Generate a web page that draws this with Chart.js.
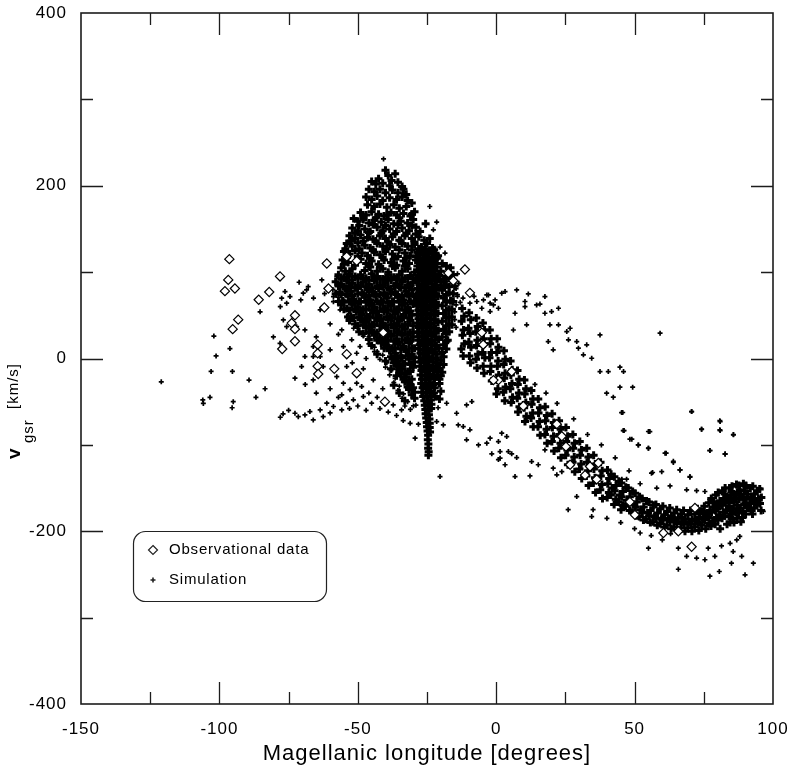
<!DOCTYPE html>
<html>
<head>
<meta charset="utf-8">
<title>Magellanic Stream velocities</title>
<script src="https://cdn.jsdelivr.net/npm/chart.js@4.4.1/dist/chart.umd.min.js"></script>
<style>
  body { margin: 0; background: #fff; }
  canvas { display: block; }
</style>
</head>
<body>
<canvas id="lonVel" width="789" height="770"></canvas>
<script>
// observed clouds (open diamonds)
const obsLon = [-96.4,-96.8,-98,-94.4,-85.8,-82,-78.1,-93.2,-95.2,-61.2,-60.6,-62.1,-72.7,-73.9,-72.7,-77.3,-72.7,-64.5,-64.5,
  -64.5,-64.3,-58.5,-50.4,-54,-50.4,-54,-11.3,-17.3,-15.5,-9.5,-5.2,-40.8,-4.7,-40.2,5.6,0.8,9.8,-1,21.9,
  23.7,25.2,26.7,33.9,36.9,32.1,36.3,48.3,50.1,60.4,65.8,70.6,71.8];
const obsVel = [115,91,78,81,68,77,95,45,34,110,81,59,50,41,34,11,20,16,6,
  -9,-18,-12,-17,5,113,118,103,99,90,76,30,30,16,-50,-15,-25,-55,-25,-76,
  -90,-102,-123,-125,-121,-135,-140,-166,-181,-202,-200,-218,-173];

// simulation particles, lon,vel pairs, grouped by part of the stream
const simWest = [
  -121,-27, -106,-48, -105.8,-52, -103.4,-45, -102,26, -101.2,3, -96.2,11.5, -103,-15, -95.3,-15, -95,-50, -95.4,-57,
  -89.3,-25, -86.8,-45, -83.5,-35, -85.3,54, -80.5,25, -78.1,17.6, -76.3,77.5, -74.5,71.7, -77.5,69.8, -75.7,64,
  -71.2,88.3, -70.6,67.8, -68.5,79.4, -69.7,75.6, -67.9,83.2, -63,91, -57.6,94.8, -58.8,71.7, -63.6,56.3, -56.4,56.3,
  -58.8,65.8, -54,48.5, -73.3,48.5, -76.9,44.7, -75.7,36.9, -72.1,36.9, -69.1,33.1, -66.1,13.8, -66.1,2.2, -63.6,2.2,
  -69.1,2.2, -70.3,-9.4, -62.5,-9.4, -55.8,33.1, -55.2,13.8, -52.2,21.6, -50.4,6.1, -49.2,13.8, -54,-9.4, -57.6,-21,
  -55.2,-28.6, -72.7,-22.8, -66.1,-24.8, -55.8,-42.1, -54,-51.7, -51.6,-47.9, -48.6,-32.5, -44.4,-24.8, -48,-44.1, -45,-51.7,
  -61.2,-51.7, -58.8,-55.6, -63.6,-59.5, -67.3,-61.5, -72.7,-63.4, -71.5,-67.3, -69.1,-65.3, -66.1,-71.1, -62.5,-67.3, -55.8,-59.5,
  -52.8,-36.1, -50.4,-28.6, -78,60, -66,70, -62,75, -60,40, -57,28, -65,25, -60,10, -52,-5,
  -48,-12, -46,-40, -43,-45, -41,-35, -47,0, -44,8, -46,25, -50,35, -52,62, -75,-60,
  -78,-68, -77,-64, -60,-63, -57,-45, -53,-58, -50,-55, -69,-30, -65,-40, -60,-35, -42,-58,
  -39,-62, -36,-66, -47,-60
];

const simPeak = [
  -40,218, -36.5,214, -39,212, -42.5,208, -37.8,206,
  -45,205, -43.5,202, -41,203, -38.5,200, -35.5,204, -34,199,
  -46,196, -44,193, -42,196, -40,192, -37.5,195, -35.5,192, -33.5,196, -32.5,190,
  -47,187, -45,184, -43,188, -41,183, -38.5,186, -36,184, -34,187, -32,183,
  -46.5,178, -44,176, -42,179, -39.5,175, -37,178, -35,174, -32.5,176, -30.5,180,
  -49,169, -47,166, -45,170, -42.5,167, -40.5,165, -38,169, -36,166, -33.5,168, -31,165, -29.5,170,
  -48,164, -43.5,163, -39.5,166, -35,163, -30.5,167,
  -51.5,162, -50,159, -48,161, -46,157, -44,160, -41.5,158, -39,161, -37,156, -34.5,159, -32,157, -30,161,
  -49.5,154, -44.5,155, -40,154, -35.5,155, -30.5,154, -25.5,156,
  -52,151, -50,148, -47.5,150, -45.5,147, -43,152, -41,148, -38.5,150, -36,147, -34,151, -31.5,148, -29,152, -27.5,147,
  -51,145, -46,146, -41.5,145, -37,144, -32.5,145, -29,144,
  -53,142, -51,139, -49,143, -46.5,140, -44.5,138, -42,142, -40,139, -37.5,141, -35,137, -33,142, -30.5,139, -28,141, -26,137,
  -52.5,136, -48,136, -43.5,136, -39,135, -34.5,136, -29.5,135, -24,139,
  -54,133, -52,130, -50,134, -47.5,131, -45.5,128, -43,133, -41,130, -38.5,132, -36.5,129, -34,133, -32,130, -29.5,132, -27,129, -25,133,
  -54.5,127, -49.5,127, -44.5,126, -39.5,127, -35,126, -30.5,126, -28,127, -23,128,
  -55,124, -53,121, -51,125, -48.5,122, -46.5,119, -44,123, -42,120, -40,124, -37.5,121, -35.5,118, -33,122, -31,119, -28.5,123, -26.5,120, -24,124,
  -54,117, -50,118, -45.5,116, -41,117, -37,115, -32.5,116, -29,118, -25.5,117, -21,119,
  -55.5,114, -53.5,111, -49,115, -47,110, -45,113, -42.5,109, -40.5,114, -38,111, -36,108, -33.5,113, -31.5,110, -29,114, -27,109, -24.5,112, -22,115, -19.5,110,
  -55,109, -51,108, -46,107, -42,106, -37.5,107, -33,107, -28.5,107, -23.5,108, -18,107,
  -56,105, -54.5,101, -52,104, -47.5,102, -45.5,106, -43,101, -41,104, -39,100, -36.5,105, -34,101, -32,104, -29.5,100, -27.5,105, -25,101, -22.5,104, -20,101, -16.5,105
];

const simCloud = [
  -57,97, -55,94, -53,98, -51,95, -49,97, -47,93, -45,98, -43,95, -41,92, -39,97, -37,94, -35,97, -33,93, -31,96, -29,93, -20.5,96, -18,93, -15.5,97,
  -56,92, -54,93, -52,91, -50,93, -48,92, -46,91, -44,93, -42,92, -40,91, -38,93, -36,92, -34,91, -32,93, -30,92, -19,92, -17,94,
  -58,89, -56,86, -54,90, -52,87, -50,84, -48,89, -46,86, -44,90, -42,85, -40,88, -38,91, -36,86, -34,89, -32,85, -30,88, -20,89, -18,85, -16,90,
  -57,84, -55,83, -53,84, -51,82, -49,84, -47,83, -45,82, -43,84, -41,83, -39,82, -37,84, -35,83, -33,82, -31,84, -19,84, -17,83, -15,84,
  -56.5,77, -54.5,81, -52.5,78, -50.5,82, -48.5,76, -46.5,80, -44.5,77, -42.5,81, -40.5,76, -38.5,80, -36.5,77, -34.5,82, -32.5,78, -30.5,80, -19.5,79, -17,76,
  -58,75, -56,74, -54,75, -52,73, -50,75, -48,74, -46,73, -44,75, -42,74, -40,73, -38,75, -36,74, -34,73, -32,75, -30,74, -18,74, -15.5,75,
  -55.5,67, -53.5,72, -51.5,69, -49.5,66, -47.5,71, -45.5,68, -43.5,72, -41.5,67, -39.5,70, -37.5,66, -35.5,71, -33.5,68, -31.5,72, -29.5,67, -19,70, -16.5,67,
  -57,66, -55,65, -53,66, -51,64, -49,66, -47,65, -45,64, -43,66, -41,65, -39,64, -37,66, -35,65, -33,64, -31,66, -18,65, -15.5,66,
  -56,62, -54,58, -52,63, -50,60, -48,57, -46,62, -44,59, -42,63, -40,58, -38,61, -36,57, -34,62, -32,59, -30,63, -19.5,61, -17,57,
  -55,57, -53,56, -51,57, -49,55, -47,57, -45,56, -43,55, -41,57, -39,56, -37,55, -35,57, -33,56, -31,55, -18,56, -16,57,
  -52.5,49, -50.5,54, -48.5,51, -46.5,48, -44.5,53, -42.5,50, -40.5,54, -38.5,49, -36.5,52, -34.5,48, -32.5,53, -30.5,50, -19,52, -17,48,
  -53.5,48, -51.5,47, -49.5,48, -47.5,46, -45.5,48, -43.5,47, -41.5,46, -39.5,48, -37.5,47, -35.5,46, -33.5,48, -31.5,47, -18,47, -16,48,
  -53,44, -51,40, -49,45, -47,42, -45,39, -43,44, -41,41, -39,45, -37,40, -35,43, -33,39, -31,44, -19.5,43, -17,40,
  -50,38, -48,39, -46,37, -44,39, -42,38, -40,37, -38,39, -36,38, -34,37, -32,39, -30,38, -18,38, -16,39,
  -49.5,31, -47,36, -45,33, -43,30, -41,35, -39,32, -37,36, -35,31, -33,34, -31,30, -19,34, -17,31,
  -48,29, -46,30, -44,28, -42,30, -40,29, -38,28, -36,30, -34,29, -32,28, -30,30, -18,29,
  -46,22, -44,27, -42,24, -40,21, -38,26, -36,23, -34,27, -32,22, -30,25, -19.5,25, -17.5,21,
  -43,21, -41,19, -39,21, -37,20, -35,19, -33,21, -31,20, -18,20,
  -41.5,18, -39.5,15, -37.5,12, -35.5,17, -33.5,14, -31.5,18, -29.5,12, -19,16,
  -40.5,12, -38.5,10, -36.5,12, -34.5,11, -32.5,10, -30.5,12, -18,11,
  -38.5,9, -36.5,6, -34.5,3, -32.5,8, -30.5,5, -19.5,7,
  -38,2, -36,3, -34,1, -32,3, -30,2, -19,2,
  -37.5,0, -35.5,-3, -33.5,-6, -31.5,-1, -29.5,-4, -20,-2,
  -37,-5, -35,-8, -33,-6, -31,-7, -19,-7,
  -36,-9, -34,-12, -32,-15, -30,-10, -20.5,-11,
  -35,-14, -33,-17, -31,-15, -19.5,-16,
  -34.5,-18, -32.5,-21, -30.5,-24, -20,-20,
  -33.5,-24, -31.5,-25, -20.5,-24,
  -33,-27, -31,-30, -20.5,-29,
  -32,-33, -30,-34,
  -31.5,-36, -29.5,-39, -20,-38,
  -30.5,-42, -29.5,-46, -20.5,-47,
  -36,-20, -37,-31, -35,-40, -33,-49, -38,-12, -40,-3, -43,5, -45,15
];

// the narrow, very dense ridge near lon -24
const simCore = [
  -27.2,126, -25.6,127, -24,125, -22.4,126,
  -28,121, -26.5,120, -25,122, -23.3,121, -21.8,120,
  -27.6,116, -26,115, -24.4,117, -22.8,115, -21.3,116,
  -28.2,111, -26.7,110, -25.1,112, -23.6,111, -22,110,
  -27.5,106, -26,105, -24.5,107, -23,105, -21.4,106,
  -28.3,101, -26.8,100, -25.2,102, -23.7,100, -22.1,101,
  -27.6,96, -26.1,95, -24.6,97, -23,96, -21.5,95,
  -28.4,91, -26.9,90, -25.3,92, -23.8,90, -22.2,91, -20.8,92,
  -27.8,86, -26.2,85, -24.7,87, -23.1,86, -21.6,85,
  -28.5,81, -27,80, -25.4,82, -23.9,80, -22.3,81, -20.9,82,
  -27.9,76, -26.3,75, -24.8,77, -23.2,76, -21.7,75,
  -28.6,71, -27,70, -25.5,72, -24,70, -22.4,71, -21,72,
  -28,66, -26.4,65, -24.9,67, -23.3,66, -21.8,65,
  -28.7,61, -27.1,60, -25.6,62, -24,60, -22.5,61, -21,62,
  -28.1,56, -26.5,55, -25,57, -23.4,56, -21.9,55,
  -28.6,51, -27.1,50, -25.5,52, -24,50, -22.5,51, -21.1,52,
  -28.1,46, -26.6,45, -25,47, -23.5,46, -22,45,
  -28.5,41, -27,40, -25.4,42, -23.9,40, -22.4,41, -21,42,
  -28,36, -26.5,35, -24.9,37, -23.4,36, -21.9,35,
  -28.4,31, -26.9,30, -25.3,32, -23.8,30, -22.3,31, -20.9,32,
  -27.8,26, -26.3,25, -24.8,27, -23.3,26, -21.8,25,
  -28.2,21, -26.7,20, -25.2,22, -23.7,20, -22.2,21, -20.8,22,
  -27.6,16, -26.1,15, -24.6,17, -23.1,16, -21.6,15,
  -28,11, -26.5,10, -25,12, -23.5,10, -22,11, -20.7,12,
  -27.4,6, -25.9,5, -24.4,7, -22.9,6, -21.4,5,
  -27.8,1, -26.3,0, -24.8,2, -23.3,0, -21.8,1,
  -27.2,-4, -25.7,-5, -24.2,-3, -22.7,-4, -21.3,-5,
  -27.6,-9, -26.1,-10, -24.6,-8, -23.1,-10, -21.7,-9,
  -27,-14, -25.5,-15, -24,-13, -22.5,-14, -21.2,-15,
  -27.3,-19, -25.8,-20, -24.3,-18, -22.8,-20, -21.5,-19,
  -26.8,-24, -25.3,-25, -23.8,-23, -22.3,-24,
  -27.1,-29, -25.6,-30, -24.1,-28, -22.6,-30,
  -26.6,-34, -25.1,-35, -23.6,-33, -22.2,-34,
  -26.9,-39, -25.4,-40, -23.9,-38, -22.5,-40,
  -26.4,-44, -25,-45, -23.5,-43, -22.1,-44,
  -26,-49, -24.8,-50, -23.6,-48,
  -25.8,-54, -24.5,-55, -23.4,-53,
  -25.6,-59, -24.4,-60, -23.5,-58,
  -25.5,-64, -24.3,-65,
  -25.3,-69, -24.1,-70,
  -25.1,-74, -24,-75,
  -25,-79, -24,-80,
  -24.8,-84, -23.9,-85,
  -24.6,-89, -24.7,-94, -24.5,-99,
  -24.6,-104, -24.4,-108, -24.5,-112
];

// main trailing stream running down to the east
const simStream = [
  -12.3,58, -11.6,49, -12.5,43, -11.8,33, -12.2,27, -11.5,17, -12.6,11, -11.9,3,
  -9.8,53, -9.2,45, -10,35, -9.4,29, -9.9,19, -9.1,13, -9.7,3, -9.3,-5,
  -7.2,47, -6.7,37, -7.4,31, -6.8,21, -7.1,15, -6.6,5, -7.3,-1, -6.9,-11,
  -4.8,41, -4.2,33, -4.6,23, -4.3,17, -4.9,7, -4.1,1, -4.7,-9, -4.4,-17,
  -2.3,33, -1.8,23, -2.2,17, -1.7,7, -2.4,1, -1.9,-9, -2.1,-15, -1.6,-26,
  0.3,23, 0.8,13, 0.2,7, 0.7,-3, 0.4,-9, 0.9,-19, 0.3,-25, 0.6,-35, 0.1,-41,
  2.8,9, 3.3,-1, 2.7,-7, 3.2,-17, 2.9,-23, 3.4,-33, 2.6,-39, 3.1,-49,
  5.2,-3, 5.8,-13, 5.3,-19, 5.7,-29, 5.1,-35, 5.9,-45, 5.4,-51,
  7.7,-14, 8.3,-24, 7.8,-30, 8.2,-40, 7.6,-46, 8.4,-56, 7.9,-62,
  10.2,-25, 10.8,-35, 10.3,-41, 10.7,-51, 10.1,-57, 10.9,-67, 10.4,-73,
  12.7,-37, 13.3,-47, 12.8,-53, 13.2,-63, 12.6,-69, 13.4,-79,
  15.2,-47, 15.8,-57, 15.3,-63, 15.7,-73, 15.1,-79, 15.9,-89,
  17.7,-56, 18.3,-66, 17.8,-72, 18.2,-82, 17.6,-88, 18.4,-98,
  20.2,-64, 20.8,-74, 20.3,-80, 20.7,-90, 20.1,-96, 20.9,-107,
  22.7,-72, 23.3,-82, 22.8,-88, 23.2,-98, 22.6,-104, 23.4,-115,
  25.2,-80, 25.8,-90, 25.3,-96, 25.7,-106, 25.1,-112, 25.9,-123,
  27.7,-88, 28.3,-98, 27.8,-104, 28.2,-114, 27.6,-120, 28.4,-131,
  30.2,-96, 30.8,-106, 30.3,-112, 30.7,-122, 30.1,-128, 30.9,-139,
  32.7,-104, 33.3,-114, 32.8,-120, 33.2,-130, 32.6,-136, 33.4,-147,
  35.2,-112, 35.8,-122, 35.3,-128, 35.7,-138, 35.1,-144, 35.9,-155,
  37.7,-120, 38.3,-130, 37.8,-136, 38.2,-146, 37.6,-152, 38.4,-162,
  40.2,-129, 40.8,-139, 40.3,-145, 40.7,-155, 40.1,-161,
  42.7,-137, 43.3,-147, 42.8,-153, 43.2,-163, 42.6,-169,
  45.2,-144, 45.8,-154, 45.3,-160, 45.7,-170, 45.1,-175,
  47.7,-150, 48.3,-160, 47.8,-166, 48.2,-176,
  50.2,-156, 50.8,-166, 50.3,-172, 50.7,-182,
  52.7,-162, 53.3,-172, 52.8,-178, 53.2,-187,
  55.2,-166, 55.8,-176, 55.3,-182, 55.7,-190,
  57.7,-169, 58.3,-179, 57.8,-185, 58.2,-193,
  60.2,-171, 60.8,-181, 60.3,-187, 60.7,-195,
  62.7,-173, 63.3,-183, 62.8,-189, 63.2,-197,
  65.2,-175, 65.8,-185, 65.3,-191, 65.7,-199,
  67.7,-176, 68.3,-186, 67.8,-192, 68.2,-200,
  70.2,-176, 70.8,-186, 70.3,-192, 70.7,-200,
  72.7,-174, 73.3,-184, 72.8,-190, 73.2,-199,
  75.2,-171, 75.8,-181, 75.3,-187, 75.7,-197,
  77.7,-162, 78.3,-172, 77.8,-178, 78.2,-188, 77.6,-194,
  80.2,-155, 80.8,-165, 80.3,-171, 80.7,-181, 80.1,-187, 80.9,-197,
  82.7,-150, 83.3,-160, 82.8,-166, 83.2,-176, 82.6,-182, 83.4,-192,
  85.2,-148, 85.8,-158, 85.3,-164, 85.7,-174, 85.1,-180, 85.9,-190,
  87.7,-147, 88.3,-157, 87.8,-163, 88.2,-173, 87.6,-179, 88.4,-189,
  90.2,-147, 90.8,-157, 90.3,-163, 90.7,-173, 90.1,-180,
  92.7,-148, 93.3,-157, 92.8,-164, 93.2,-173, 92.6,-180,
  95.2,-151, 95.8,-161, 95.3,-168, 95.7,-176
];

// extra particles filling the dense eastern end of the stream
const simClump = [
  41.5,-134, 41.9,-150, 41.4,-158,
  44.3,-142, 44.7,-158, 44.2,-166,
  46.8,-149, 47.2,-164, 46.7,-171,
  49.3,-154, 49.7,-169, 49.2,-178,
  51.8,-160, 52.2,-175, 51.7,-183,
  54.3,-165, 54.7,-179, 54.2,-186,
  56.8,-170, 57.2,-183, 56.7,-189,
  59.3,-174, 59.7,-186, 59.2,-191,
  61.8,-177, 62.2,-185, 61.7,-193,
  64.3,-179, 64.7,-187, 64.2,-195,
  66.8,-180, 67.2,-189, 66.7,-196,
  69.3,-181, 69.7,-189, 69.2,-196,
  71.8,-180, 72.2,-188, 71.7,-195,
  74.3,-177, 74.7,-186, 74.2,-193,
  76.8,-167, 77.2,-176, 76.7,-184, 77.1,-191,
  79.3,-158, 79.7,-168, 79.2,-176, 79.6,-184, 79.1,-192,
  81.8,-153, 82.2,-162, 81.7,-170, 82.1,-178, 81.6,-185,
  84.3,-150, 84.7,-158, 84.2,-167, 84.6,-175, 84.1,-183, 84.5,-190,
  86.8,-146, 87.2,-155, 86.7,-162, 87.1,-170, 86.6,-178, 87,-185,
  89.3,-145, 89.7,-153, 89.2,-161, 89.6,-169, 89.1,-177,
  91.8,-150, 92.2,-160, 91.7,-168, 92.1,-176,
  94.3,-153, 94.7,-162, 94.2,-170,
  83.5,-163, 86,-166, 88.5,-160, 81,-168, 84,-171, 87,-174, 90,-167, 85,-154, 88,-152, 82.5,-157,
  78.5,-166, 80,-174, 91,-171, 93.5,-166, 85.5,-186, 89,-184, 76,-180, 73.5,-178, 67,-184, 63.5,-186
];

// the fainter arc above the main stream
const simArc = [
  -14,74, -12,70, -10,76, -8,72, -7,66, -9.5,64, -13,65,
  -4.6,67.8, -2.8,73.6, -1,62, 0.8,58.2, -5.2,58.2, -2.2,54.3,
  -3.4,73.6, -2.2,64, -0.4,67.8, 2,75.6, 3.2,77.5, 7.4,79.4, 11.6,74.8, 10.4,66, 10.4,60, 14.6,62,
  15.8,63, 17.6,71.7, 17.6,52.4, 20,54.3, 22.5,58.2, 6.8,52.4, 6.2,33, 11,39, 18.8,19.6, 20.6,10,
  19.4,39, 22.5,39, 25.5,31.2, 26.7,35, 26.1,21.6, 29.1,19.6, 29.7,11.9, 32.7,15.8, 31.5,4.2, 34.5,0.3,
  37.5,27.3, 37.5,-15.1, 40.5,-15.1, 44.7,-10, 46,-15.1, 44.7,-33.2, 49.3,-33.2, 39.9,-40.2, 42.3,-44.8, 45.7,-62.5,
  46.2,-83.4, 49,-93.4, 51.4,-100, 55,-84.5, 55,-103.8, 61.4,-109.6, 64,-120.4, 66.4,-129, 70.6,-61.4, 74.2,-81.8,
  80.9,-73, 80.9,-83.4, 85.7,-88.4, 77.2,-106.5, 82.7,-110.4, 59.2,29.3
];

// loose particles around the cloud and the stream
const simScatter = [
  -40.7,231, -24,176, -21.5,158, -22.7,149, -20.3,129, -18.5,122, -14,98, -13.5,87, -14.5,81, -14,72, -14.5,62, -15,54, -15,45, -14.5,36,
  -57,71, -59,80, -51.5,35, -53,44, -48,26, -46,17, -44,13, -43,8, -41,4, -42,-1, -39.5,-5, -40,-10, -38,-14, -38.5,-19,
  -36.5,-23, -37,-28, -35,-32, -35.5,-37, -33.5,-41, -34,-46, -32,-50, -33,-55, -31,-59, -29,-54, -21,-57,
  -33.6,-71.9, -31.1,-75, -28.1,-76, -29.3,-92.3, -21.5,-73, -19.1,-76.9, -37.2,-53.7, -34.2,-59.5, -29.9,-54.9, -17.9,-51.8,
  -14.3,-63.4, -10.7,-53.7, -8.8,-49.9, -13.7,-76.9, -11.9,-78.8, -9.5,-82.6, -10.7,-94.2, -6.4,-100, -2.2,-92.3, 0.8,-96.2,
  -1.6,-110.4, 1.4,-115.4, 3.2,-123, 5.6,-110.4, 7.4,-114.7, -20.3,-136.7, 6.8,-136.7, -3.4,-98, 0.8,-117, 1.4,-107.7,
  4.4,-107.7, 2,-86.5, 3.8,-90.4, 12.8,-119.3, 15.2,-123, 12.2,-136, 17.6,-105.8, 20.6,-127, 21.9,-134.7, 23.7,-131,
  26,-175, 34.5,-183, 29.1,-159.8, 52,-202, 55,-219.6, 65.8,-219.6, 68.8,-229, 72.4,-231, 75.4,-233, 76.6,-219.6,
  79,-229, 65.8,-244, 77.2,-252, 80.6,-246.6, 81.4,-217, 84.5,-214, 85.6,-223.5, 85,-237, 88.7,-229, 89.9,-250.5,
  92.9,-237, 86.9,-210, 88,-206, 96.5,-177, 95.3,-150, 56.1,-132.8, 59.8,-131, 66.4,-129, 70,-136.7, 45.3,-62.6,
  70.6,-61.5, 80.8,-72, 80.8,-82.6, 74.2,-82, 85.7,-88, 55.5,-84.6, 45.9,-83.5, 48.3,-93.4, 51.3,-100, 55,-104,
  61,-109.6, 77.2,-106.6, 82.7,-110.8, 64,-119, 70,-137.4, 56.5,-132, 62.8,-147.5, 58,-150, 47.1,-139.7, 45.4,-139.7,
  68.8,-152, 72.4,-153, 75.4,-154, 14,-30, 18,-40, 22,-52, 28,-70, 33,-88, 38,-100, 43,-115,
  48,-130, 52,-145, 35,-175, 40,-185, 45,-190, 50,-197, 56,-205, 60,-210, 63,-203
];

const xLabels = [-150, -100, -50, 0, 50, 100];
const yLabels = [-400, -200, 0, 200, 400];

function toPoints(pairs) {
  let pts = [];
  for (let i = 0; i < pairs.length; i += 2) {
    pts.push({ x: pairs[i], y: pairs[i + 1] });
  }
  return pts;
}

let obsPoints = [];
for (let i in obsLon) {
  obsPoints.push({ x: obsLon[i], y: obsVel[i] });
}
// crowded parts get heavier crosses than the loose particles
let densePoints = [].concat(
  toPoints(simPeak), toPoints(simCloud), toPoints(simCore), toPoints(simStream), toPoints(simClump)
);
let loosePoints = [].concat(toPoints(simWest), toPoints(simArc), toPoints(simScatter));

// text is slightly tracked out
const tracking = {
  id: 'tracking',
  beforeLayout(chart) { chart.ctx.letterSpacing = '1px'; },
  beforeDraw(chart) { chart.ctx.letterSpacing = '1px'; }
};

// box round the plot with inward ticks on all four sides
const frame = {
  id: 'frame',
  afterDraw(chart) {
    const { ctx, chartArea: a, scales } = chart;
    ctx.save();
    ctx.strokeStyle = '#1c1c1c';
    ctx.lineWidth = 1.6;
    ctx.strokeRect(a.left, a.top, a.right - a.left, a.bottom - a.top);
    ctx.lineWidth = 1.3;
    ctx.beginPath();
    scales.x.ticks.forEach(t => {
      if (t.value <= scales.x.min || t.value >= scales.x.max) return;
      const px = Math.round(scales.x.getPixelForValue(t.value)) + 0.5;
      const len = xLabels.includes(t.value) ? 22 : 12;
      ctx.moveTo(px, a.bottom); ctx.lineTo(px, a.bottom - len);
      ctx.moveTo(px, a.top); ctx.lineTo(px, a.top + len);
    });
    scales.y.ticks.forEach(t => {
      if (t.value <= scales.y.min || t.value >= scales.y.max) return;
      const py = Math.round(scales.y.getPixelForValue(t.value)) + 0.5;
      const len = yLabels.includes(t.value) ? 22 : 12;
      ctx.moveTo(a.left, py); ctx.lineTo(a.left + len, py);
      ctx.moveTo(a.right, py); ctx.lineTo(a.right - len, py);
    });
    ctx.stroke();
    ctx.restore();
  }
};

// rotated y title with subscript
const yTitle = {
  id: 'yTitle',
  afterDraw(chart) {
    const ctx = chart.ctx;
    ctx.save();
    ctx.fillStyle = '#000';
    ctx.letterSpacing = '1px';
    ctx.rotate(-Math.PI / 2);
    ctx.textBaseline = 'alphabetic';
    ctx.font = 'bold 19px "Liberation Sans"';
    ctx.fillText('v', -459, 20);
    ctx.font = '15px "Liberation Sans"';
    ctx.fillText('gsr', -443, 33);
    ctx.fillText('[km/s]', -409, 18);
    ctx.restore();
  }
};

// legend box in the lower left of the plot
const legendBox = {
  id: 'legendBox',
  afterDraw(chart) {
    const ctx = chart.ctx;
    ctx.save();
    ctx.strokeStyle = '#222';
    ctx.lineWidth = 1.2;
    ctx.beginPath();
    ctx.roundRect(133.5, 531.5, 193, 70, 12);
    ctx.stroke();
    ctx.beginPath();
    ctx.moveTo(153, 545.5); ctx.lineTo(157.5, 550); ctx.lineTo(153, 554.5); ctx.lineTo(148.5, 550); ctx.closePath();
    ctx.stroke();
    ctx.beginPath();
    ctx.lineWidth = 1.6;
    ctx.moveTo(150.5, 580); ctx.lineTo(155.5, 580);
    ctx.moveTo(153, 577.5); ctx.lineTo(153, 582.5);
    ctx.stroke();
    ctx.fillStyle = '#000';
    ctx.letterSpacing = '0.8px';
    ctx.font = '15px "Liberation Sans"';
    ctx.textBaseline = 'middle';
    ctx.fillText('Observational data', 169, 550);
    ctx.fillText('Simulation', 169, 580);
    ctx.restore();
  }
};

Chart.defaults.font.family = '"Liberation Sans", Arial, sans-serif';
Chart.defaults.color = '#000';

new Chart(document.getElementById('lonVel'), {
  type: 'scatter',
  data: {
    datasets: [{
      label: 'Observational data',
      data: obsPoints,
      pointStyle: 'rectRot',
      pointRadius: 4.6,
      pointBorderWidth: 1.2,
      pointBorderColor: '#000',
      pointBackgroundColor: '#fff'
    }, {
      label: 'Simulation',
      data: densePoints,
      pointStyle: 'cross',
      pointRadius: 4,
      pointBorderWidth: 3,
      pointBorderColor: '#000',
      pointBackgroundColor: '#000'
    }, {
      label: 'Simulation (loose)',
      data: loosePoints,
      pointStyle: 'cross',
      pointRadius: 2.5,
      pointBorderWidth: 1.7,
      pointBorderColor: '#000',
      pointBackgroundColor: '#000'
    }]
  },
  options: {
    responsive: false,
    animation: false,
    events: [],
    layout: { padding: { top: 13, right: 16, left: 0, bottom: 0 } },
    plugins: {
      legend: { display: false },
      tooltip: { enabled: false }
    },
    scales: {
      x: {
        type: 'linear',
        min: -150,
        max: 100,
        afterFit: s => { s.height = 66; s.paddingLeft = 0; s.paddingRight = 0; },
        grid: { display: false, drawTicks: false },
        border: { display: false },
        ticks: {
          stepSize: 25,
          padding: 15,
          autoSkip: false,
          maxRotation: 0,
          font: { size: 17 },
          callback: v => xLabels.includes(v) ? String(v) : ''
        },
        title: {
          display: true,
          text: 'Magellanic longitude [degrees]',
          font: { size: 22 },
          padding: { top: 0, bottom: 3 }
        }
      },
      y: {
        type: 'linear',
        min: -400,
        max: 400,
        afterFit: s => { s.width = 81; s.paddingTop = 0; s.paddingBottom = 0; },
        grid: { display: false, drawTicks: false },
        border: { display: false },
        ticks: {
          stepSize: 100,
          padding: 14,
          autoSkip: false,
          font: { size: 17 },
          callback: v => yLabels.includes(v) ? String(v) : ''
        }
      }
    }
  },
  plugins: [tracking, frame, yTitle, legendBox]
});
</script>
</body>
</html>
